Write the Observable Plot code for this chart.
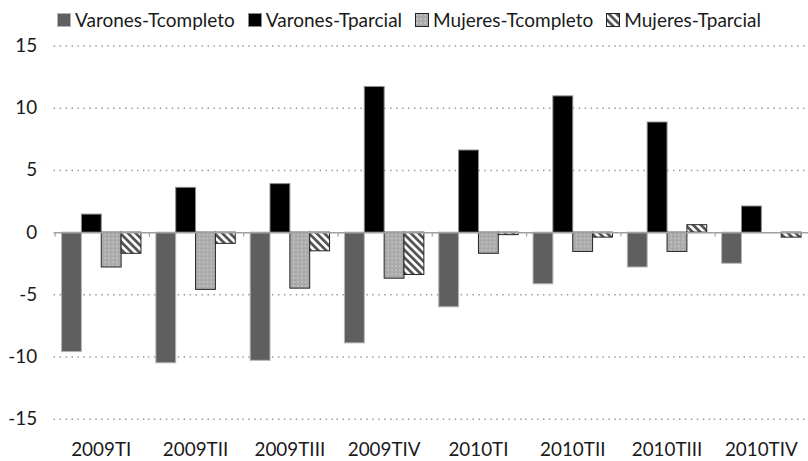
<!DOCTYPE html>
<html>
<head>
<meta charset="utf-8">
<script src="https://cdn.jsdelivr.net/npm/d3@7"></script>
<script src="https://cdn.jsdelivr.net/npm/@observablehq/plot@0.6"></script>
<style>
  html, body { margin: 0; padding: 0; background: #fff; overflow: hidden; width: 808px; height: 461px; }
  body { font-family: Lato, "Open Sans", sans-serif; color: #1a1a1a; }
  #legend { height: 30px; box-sizing: border-box; padding-left: 57px; padding-top: 9px; display: flex; align-items: center; font-size: 19px; line-height: 22px; white-space: nowrap; }
  #legend .item { display: flex; align-items: center; margin-right: 13px; }
  #legend svg { margin-right: 4px; display: block; }
</style>
</head>
<body>
<svg width="0" height="0" style="position:absolute">
  <defs>
    <pattern id="dots" patternUnits="userSpaceOnUse" width="4" height="4">
      <rect width="4" height="4" fill="#a9a9a9"></rect>
      <circle cx="2" cy="2" r="0.8" fill="#dcdcdc"></circle>
    </pattern>
    <pattern id="stripes" patternUnits="userSpaceOnUse" width="5.5" height="5.5" patternTransform="rotate(-45)">
      <rect width="5.5" height="5.5" fill="#ffffff"></rect>
      <rect width="2.8" height="5.5" fill="#555555"></rect>
    </pattern>
  </defs>
</svg>
<div id="legend"></div>
<div id="chart"></div>
<script>
const quarters = ["2009TI", "2009TII", "2009TIII", "2009TIV", "2010TI", "2010TII", "2010TIII", "2010TIV"];
const seriesNames = ["Varones-Tcompleto", "Varones-Tparcial", "Mujeres-Tcompleto", "Mujeres-Tparcial"];
const varonesTcompleto = [-9.6, -10.5, -10.3, -8.9, -6.0, -4.15, -2.8, -2.5];
const varonesTparcial = [1.45, 3.6, 3.9, 11.7, 6.6, 10.95, 8.85, 2.1];
const mujeresTcompleto = [-2.8, -4.6, -4.5, -3.7, -1.7, -1.55, -1.55, 0];
const mujeresTparcial = [-1.7, -0.9, -1.5, -3.4, -0.2, -0.4, 0.6, -0.4];
const yTicks = [-15, -10, -5, 0, 5, 10, 15];
const gridTicks = [-15, -10, -5, 5, 10, 15];

const styles = {
  "Varones-Tcompleto": {fill: "#5f5f5f", stroke: "#b5b5b5"},
  "Varones-Tparcial": {fill: "#000000", stroke: "#8a8a8a"},
  "Mujeres-Tcompleto": {fill: "url(#dots)", stroke: "#222222"},
  "Mujeres-Tparcial": {fill: "url(#stripes)", stroke: "#222222"}
};

const valuesBySeries = [varonesTcompleto, varonesTparcial, mujeresTcompleto, mujeresTparcial];
const rows = [];
seriesNames.forEach((s, si) => {
  quarters.forEach((q, qi) => rows.push({quarter: q, series: s, value: valuesBySeries[si][qi]}));
});

// Legend
const legend = document.getElementById("legend");
seriesNames.forEach(s => {
  const item = document.createElement("div");
  item.className = "item";
  item.innerHTML = `<svg width="14" height="14"><rect x="0.5" y="0.5" width="13" height="13" fill="${styles[s].fill}" stroke="${styles[s].stroke}"></rect></svg><span>${s}</span>`;
  legend.appendChild(item);
});

const barMarks = seriesNames.map(s =>
  Plot.barY(rows.filter(d => d.series === s && d.value !== 0), {
    fx: "quarter", x: "series", y: "value",
    fill: styles[s].fill, stroke: styles[s].stroke, strokeWidth: 1
  })
);

const chart = Plot.plot({
  width: 814,
  height: 431,
  marginLeft: 54,
  marginRight: 0,
  marginTop: 15.6,
  marginBottom: 39.3,
  style: {fontSize: "19px", fontFamily: "Lato, 'Open Sans', sans-serif", color: "#1a1a1a", background: "transparent", overflow: "visible"},
  fx: {domain: quarters, padding: 0, axis: "bottom", tickSize: 0, tickPadding: 23, label: null},
  x: {domain: seriesNames, paddingInner: 0, paddingOuter: 0.375, axis: null},
  y: {domain: [-15, 15], ticks: yTicks, tickSize: 0, tickPadding: 17, label: null, tickFormat: d => String(d)},
  marks: [
    Plot.ruleY(gridTicks, {stroke: "#9a9a9a", strokeWidth: 1.5, strokeDasharray: "1.5,4.5"}),
    ...barMarks,
    Plot.ruleY([0], {stroke: "#a0a0a0", strokeWidth: 1.5}),
    Plot.ruleX(quarters.map(q => ({quarter: q, series: seriesNames[0]})), {
      fx: "quarter", x: "series", y1: 0, y2: -0.35, dx: -17, stroke: "#a0a0a0", strokeWidth: 1.2
    })
  ]
});
document.getElementById("chart").appendChild(chart);
</script>
</body>
</html>
